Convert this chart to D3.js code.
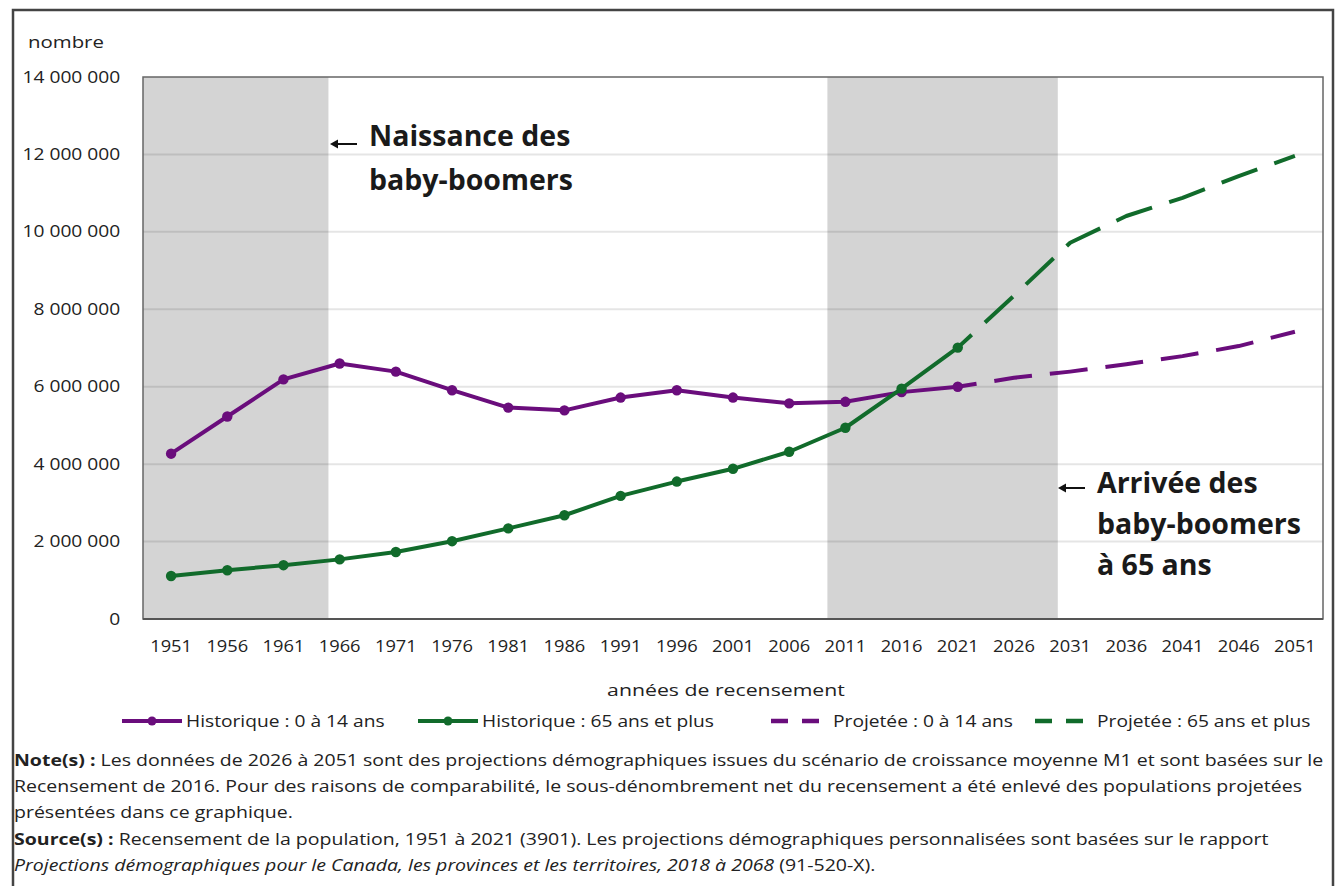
<!DOCTYPE html>
<html>
<head>
<meta charset="utf-8">
<script src="https://cdn.jsdelivr.net/npm/d3@7"></script>
<style>
  body { margin: 0; background: #fff; }
  svg { display: block; font-family: "Open Sans", "Noto Sans", sans-serif; }
</style>
</head>
<body>
<div id="chart"></div>
<script>
// census years (category axis)
const years = [1951, 1956, 1961, 1966, 1971, 1976, 1981, 1986, 1991, 1996, 2001,
               2006, 2011, 2016, 2021, 2026, 2031, 2036, 2041, 2046, 2051];
const histYears = years.slice(0, 15);
const projYears = years.slice(14);

// historical counts, 1951-2021
const hist0to14 = [4270000, 5230000, 6190000, 6600000, 6390000, 5910000, 5460000, 5390000,
                   5720000, 5910000, 5720000, 5570000, 5610000, 5860000, 6000000];
const hist65plus = [1110000, 1260000, 1390000, 1540000, 1730000, 2010000, 2340000, 2680000,
                    3180000, 3550000, 3880000, 4320000, 4940000, 5950000, 7010000];

// projected counts, 2021-2051
const proj0to14 = [6000000, 6230000, 6390000, 6580000, 6790000, 7050000, 7420000];
const proj65plus = [7010000, 8350000, 9720000, 10410000, 10880000, 11440000, 11960000];

const yTicks = [0, 2000000, 4000000, 6000000, 8000000, 10000000, 12000000, 14000000];

// shaded periods, in years
const boomBirth = [1946, 1965];
const boom65 = [2009.4, 2029.9];

const legendItems = [
    { label: 'Historique : 0 à 14 ans', color: '#6a0d7c', dashed: false },
    { label: 'Historique : 65 ans et plus', color: '#116b2b', dashed: false },
    { label: 'Projetée : 0 à 14 ans', color: '#6a0d7c', dashed: true },
    { label: 'Projetée : 65 ans et plus', color: '#116b2b', dashed: true }
];

const purple = '#6a0d7c';
const green = '#116b2b';
const ink = '#222';

const W = 1338, H = 886;
const plot = { left: 143, right: 1323, top: 77, bottom: 619 };

const svg = d3.select('#chart').append('svg')
    .attr('width', W)
    .attr('height', H);

// text drawn a bit wider than the font, like the source image
function wideText(parent, x, y, sx, size) {
    return parent.append('text')
        .attr('transform', `translate(${x},${y}) scale(${sx},1)`)
        .style('font-size', size + 'px')
        .attr('fill', ink);
}

// outer frame
svg.append('path')
    .attr('d', `M13,${H + 5} V10 H1333 V${H + 5}`)
    .attr('fill', 'none')
    .attr('stroke', '#444')
    .attr('stroke-width', 2.5);

const x = d3.scaleBand()
    .domain(years)
    .range([plot.left, plot.right]);
const bw = x.bandwidth();
const cx = d => x(d) + bw / 2;

const xYear = d3.scaleLinear()
    .domain([1951, 2051])
    .range([cx(1951), cx(2051)]);

const y = d3.scaleLinear()
    .domain([0, 14000000])
    .range([plot.bottom, plot.top]);

svg.append('clipPath').attr('id', 'plotclip')
    .append('rect')
    .attr('x', plot.left).attr('y', plot.top)
    .attr('width', plot.right - plot.left).attr('height', plot.bottom - plot.top);

// shaded periods
svg.append('g').attr('clip-path', 'url(#plotclip)')
    .selectAll('rect')
    .data([boomBirth, boom65])
    .enter().append('rect')
    .attr('x', d => xYear(d[0]))
    .attr('width', d => xYear(d[1]) - xYear(d[0]))
    .attr('y', plot.top)
    .attr('height', plot.bottom - plot.top)
    .attr('fill', '#d4d4d4');

// gridlines
svg.append('g')
    .selectAll('line')
    .data(yTicks.slice(1, -1))
    .enter().append('line')
    .attr('x1', plot.left).attr('x2', plot.right)
    .attr('y1', d => y(d)).attr('y2', d => y(d))
    .attr('stroke', '#000')
    .attr('stroke-opacity', 0.1)
    .attr('stroke-width', 2);

// plot border
svg.append('rect')
    .attr('x', plot.left).attr('y', plot.top)
    .attr('width', plot.right - plot.left).attr('height', plot.bottom - plot.top)
    .attr('fill', 'none')
    .attr('stroke', '#666')
    .attr('stroke-width', 1.5);
svg.append('line')
    .attr('x1', plot.left).attr('x2', plot.right)
    .attr('y1', plot.bottom).attr('y2', plot.bottom)
    .attr('stroke', '#555')
    .attr('stroke-width', 2);

// y axis labels
const fmt = d => d3.format(',')(d).replace(/,/g, '\u00a0');
const yAxis = d3.axisLeft(y).tickValues(yTicks).tickSize(0).tickPadding(19).tickFormat(fmt);
const yg = svg.append('g').attr('transform', `translate(${plot.left},0)`).call(yAxis);
yg.select('.domain').remove();
yg.selectAll('text')
    .style('font-family', '"Open Sans", sans-serif')
    .style('font-size', '16px')
    .attr('transform', 'scale(1.2,1)')
    .attr('fill', ink);

// x axis labels
const xAxis = d3.axisBottom(x).tickSize(0).tickPadding(22);
const xg = svg.append('g').attr('transform', `translate(0,${plot.bottom})`).call(xAxis);
xg.select('.domain').remove();
xg.selectAll('text')
    .style('font-family', '"Open Sans", sans-serif')
    .style('font-size', '15.5px')
    .attr('transform', 'scale(1.18,1)')
    .attr('fill', ink);

wideText(svg, 28, 48, 1.2, 17).text('nombre');
wideText(svg, 726, 696, 1.25, 17).attr('text-anchor', 'middle').text('années de recensement');

// series
const line = d3.line().x(d => cx(d[0])).y(d => y(d[1]));
const dash = '38,18';

function drawSeries(xs, vs, color, dashed) {
    const pts = d3.zip(xs, vs);
    svg.append('path')
        .datum(pts)
        .attr('d', line)
        .attr('fill', 'none')
        .attr('stroke', color)
        .attr('stroke-width', 4)
        .attr('stroke-linejoin', 'round')
        .attr('stroke-dasharray', dashed ? dash : null)
        .attr('stroke-dashoffset', dashed ? 19 : null);
    if (!dashed) {
        svg.append('g').selectAll('circle')
            .data(pts)
            .enter().append('circle')
            .attr('cx', d => cx(d[0]))
            .attr('cy', d => y(d[1]))
            .attr('r', 5.2)
            .attr('fill', color);
    }
}

drawSeries(projYears, proj0to14, purple, true);
drawSeries(projYears, proj65plus, green, true);
drawSeries(histYears, hist0to14, purple, false);
drawSeries(histYears, hist65plus, green, false);

// annotations with small left arrows
function annotate(ax, ay, lines, tx, ty, gap) {
    svg.append('line')
        .attr('x1', ax + 6).attr('x2', ax + 27)
        .attr('y1', ay).attr('y2', ay)
        .attr('stroke', '#111')
        .attr('stroke-width', 2);
    svg.append('path')
        .attr('d', `M${ax},${ay} l8,-4.5 v9 Z`)
        .attr('fill', '#111');
    svg.append('g').selectAll('text')
        .data(lines)
        .enter().append('text')
        .attr('x', tx)
        .attr('y', (d, i) => ty + i * gap)
        .style('font-size', '28.5px')
        .style('font-weight', 'bold')
        .attr('fill', '#1a1a1a')
        .text(d => d);
}
annotate(330, 144, ['Naissance des', 'baby-boomers'], 369, 146, 44);
annotate(1058, 488, ['Arrivée des', 'baby-boomers', 'à 65 ans'], 1097, 493, 41);

// legend
const legendX = [122, 418, 771, 1035];
const lg = svg.append('g').selectAll('g')
    .data(legendItems)
    .enter().append('g')
    .attr('transform', (d, i) => `translate(${legendX[i]},721)`);
lg.each(function (d) {
    const g = d3.select(this);
    if (d.dashed) {
        g.append('line')
            .attr('x1', 0).attr('x2', 50)
            .attr('stroke', d.color)
            .attr('stroke-width', 4.5)
            .attr('stroke-dasharray', '17,14');
        wideText(g, 62, 6, 1.2, 16).text(d.label);
    } else {
        g.append('line')
            .attr('x1', 0).attr('x2', 60)
            .attr('stroke', d.color)
            .attr('stroke-width', 4);
        g.append('circle')
            .attr('cx', 30).attr('r', 4.5)
            .attr('fill', d.color);
        wideText(g, 64, 6, 1.2, 16).text(d.label);
    }
});

// notes
const notes = svg.append('g');
const sx = 1.22;
const n1 = wideText(notes, 14, 766, sx, 16);
n1.append('tspan').style('font-weight', 'bold').text('Note(s) :');
n1.append('tspan').text(' Les données de 2026 à 2051 sont des projections démographiques issues du scénario de croissance moyenne M1 et sont basées sur le');
wideText(notes, 14, 792, sx, 16)
    .text('Recensement de 2016. Pour des raisons de comparabilité, le sous-dénombrement net du recensement a été enlevé des populations projetées');
wideText(notes, 14, 818, sx, 16)
    .text('présentées dans ce graphique.');
const n4 = wideText(notes, 14, 845, sx, 16);
n4.append('tspan').style('font-weight', 'bold').text('Source(s) :');
n4.append('tspan').text(' Recensement de la population, 1951 à 2021 (3901). Les projections démographiques personnalisées sont basées sur le rapport');
const n5 = wideText(notes, 14, 871, sx, 16);
n5.append('tspan').style('font-style', 'italic').text('Projections démographiques pour le Canada, les provinces et les territoires, 2018 à 2068');
n5.append('tspan').text(' (91-520-X).');
</script>
</body>
</html>
